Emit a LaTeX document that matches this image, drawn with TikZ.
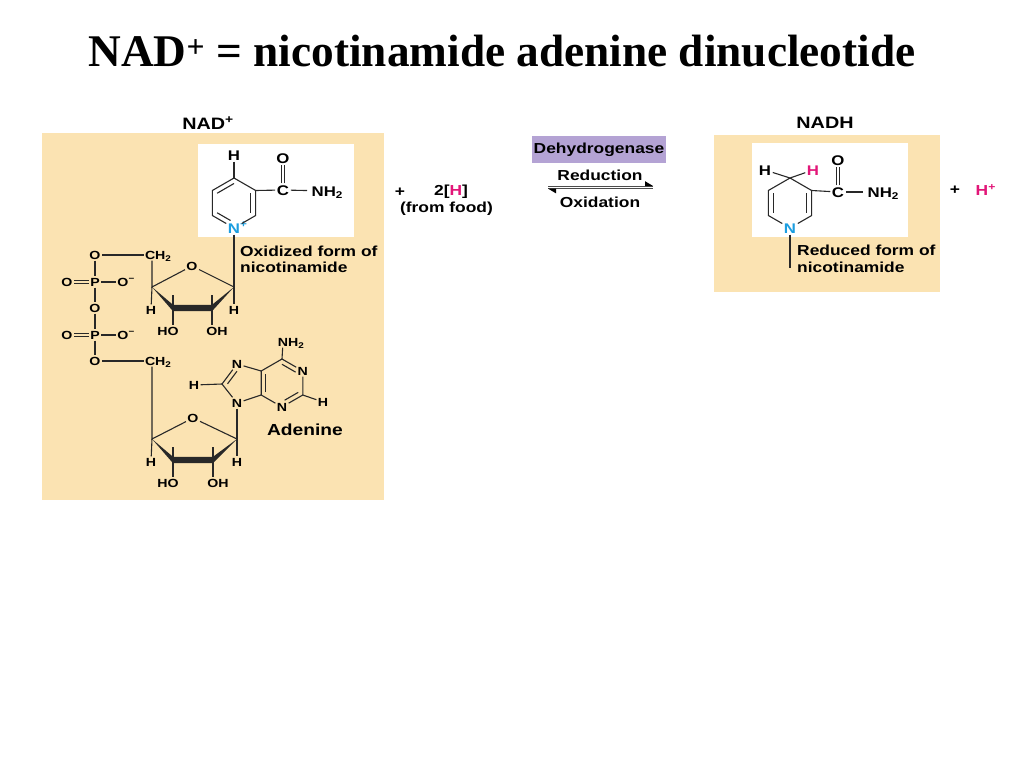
\documentclass[tikz,border=0pt]{standalone}
\usepackage{fontspec}
\setmainfont{Liberation Serif}
\newfontfamily\labfont{Liberation Sans}[FakeStretch=1.2]
\usetikzlibrary{calc}
\definecolor{tanbg}{RGB}{251,227,178}
\definecolor{purp}{RGB}{180,163,212}
\definecolor{mag}{RGB}{226,22,120}
\definecolor{cyn}{RGB}{28,158,224}
\definecolor{bondc}{RGB}{40,40,40}
\newcommand\atomS{\labfont\bfseries\fontsize{11.8}{12}\selectfont}
\newcommand\atomL{\labfont\bfseries\fontsize{14}{15}\selectfont}
\newcommand\labS{\labfont\bfseries\fontsize{14.5}{16}\selectfont}
\newcommand\headS{\labfont\bfseries\fontsize{16.5}{18}\selectfont}
\begin{document}
\begin{tikzpicture}[x=1pt,y=-1pt,
  atm/.style={font=\atomS,inner sep=1.3pt,text height=8.4pt,text depth=0pt},
  atmL/.style={font=\atomL,inner sep=1.5pt,text height=10pt,text depth=0pt},
  bond/.style={line width=1.1pt,draw=bondc},
  lab/.style={font=\labS,inner sep=0pt},
  head/.style={font=\headS,inner sep=0pt},
  panel/.style={fill=tanbg},
  inset/.style={fill=white},
]
\useasboundingbox (0,0) rectangle (1024,768);
\fill[white] (0,0) rectangle (1024,768);

% title
\node[font=\fontsize{45.3}{50}\selectfont\bfseries,anchor=base,inner sep=0pt] (title) at (502,66.5)
  {NAD\textsuperscript{+} = nicotinamide adenine dinucleotide};

% ================= NAD+ panel =================
\fill[panel] (42,133) rectangle (384,500);
\fill[inset] (198,144) rectangle (354,237);
\node[head] (nadlab) at (208,123) {NAD\textsuperscript{+}};

% nicotinamide (oxidized)
\coordinate (nc) at (234,203);
\coordinate (n4) at (234,178);
\coordinate (n3) at (255.65,190.5);
\coordinate (n2) at (255.65,215.5);
\node[atmL,text=cyn] (nN) at (234,228) {N\rlap{\textsuperscript{+}}};
\coordinate (n6) at (212.35,215.5);
\coordinate (n5) at (212.35,190.5);
\node[atmL] (nH) at (234,155) {H};
\node[atmL] (nC) at (283,190) {C};
\node[atmL] (nO) at (283,158) {O};
\node[atmL,anchor=west] (nNH) at (310,191) {NH\textsubscript{2}};
\draw[bond] (n4) -- (n3) -- (n2) -- (nN) -- (n6) -- (n5) -- (n4);
\draw[bond] (nH) -- (n4);
\draw[bond] (n3) -- (nC);
\draw[bond,shorten >=3pt] (nC) -- (nNH);
\draw[bond] ([xshift=-1.8pt]nC.north) -- ([xshift=-1.8pt]nO.south);
\draw[bond] ([xshift=1.8pt]nC.north) -- ([xshift=1.8pt]nO.south);
\draw[bond] ($(n5)!0.22!(nc)$) -- ($(n4)!0.22!(nc)$);
\draw[bond] ($(n3)!0.22!(nc)$) -- ($(n2)!0.22!(nc)$);
\draw[bond,shorten >=4pt] ($(n6)!0.22!(nc)$) -- ($(nN)!0.22!(nc)$);
\node[lab,anchor=base west] (oxa) at (240,256) {Oxidized form of};
\node[lab,anchor=base west] (oxb) at (240,272.5) {nicotinamide};

% phosphates
\node[atm] (pO1) at (95,255) {O};
\node[atm,anchor=west] (ch2a) at (143.5,255) {CH\textsubscript{2}};
\node[atm] (pOa) at (67,282) {O};
\node[atm] (pP1) at (95,282) {P};
\node[atm] (pOm1) at (123,282) {O\rlap{\textsuperscript{−}}};
\node[atm] (pO2) at (95,308) {O};
\node[atm] (pOb) at (67,335) {O};
\node[atm] (pP2) at (95,335) {P};
\node[atm] (pOm2) at (123,335) {O\rlap{\textsuperscript{−}}};
\node[atm] (pO3) at (95,361) {O};
\node[atm,anchor=west] (ch2b) at (143.5,361) {CH\textsubscript{2}};
\draw[bond] (pO1) -- (ch2a);
\draw[bond] (pO1) -- (pP1) -- (pO2) -- (pP2) -- (pO3);
\draw[bond] (pO3) -- (ch2b);
\draw[bond] (pP1) -- (pOm1);
\draw[bond] (pP2) -- (pOm2);
\draw[bond] ([yshift=1.6pt]pOa.east) -- ([yshift=1.6pt]pP1.west);
\draw[bond] ([yshift=-1.6pt]pOa.east) -- ([yshift=-1.6pt]pP1.west);
\draw[bond] ([yshift=1.6pt]pOb.east) -- ([yshift=1.6pt]pP2.west);
\draw[bond] ([yshift=-1.6pt]pOb.east) -- ([yshift=-1.6pt]pP2.west);

% ribose 1
\coordinate (r1c4) at (152,287);
\node[atm] (r1o) at (192,266) {O};
\coordinate (r1c1) at (234,287);
\coordinate (r1c3) at (173,308);
\coordinate (r1c2) at (212,308);
\coordinate (r1t3) at (173,295);
\coordinate (r1t2) at (212,295);
\node[atm] (r1hl) at (151,310) {H};
\node[atm] (r1hr) at (234,310) {H};
\node[atm] (r1ho) at (168,331) {HO};
\node[atm] (r1oh) at (217,331) {OH};
\draw[bond] (r1c4 |- ch2a.south) -- (r1c4) -- (r1o) -- (r1c1);
\draw[bond] (r1c4) -- (r1hl);
\draw[bond] (nN) -- (r1c1) -- (r1hr);
\fill[bondc] (r1c4) -- ($(r1c3)+(0,-3.2)$) -- ($(r1c2)+(0,-3.2)$) -- (r1c1)
  -- ($(r1c2)+(0,3.2)$) -- ($(r1c3)+(0,3.2)$) -- cycle;
\draw[bond] (r1t3) -- (r1c3) -- (r1c3 |- r1ho.north);
\draw[bond] (r1t2) -- (r1c2) -- (r1c2 |- r1oh.north);

% adenine
\coordinate (hc) at (282,383);
\coordinate (a6) at (282,359);
\node[atm] (nA1) at (302.8,371) {N};
\coordinate (a2) at (302.8,395);
\node[atm] (nA3) at (282,407) {N};
\coordinate (a4) at (261.2,395);
\coordinate (a5) at (261.2,371);
\node[atm] (nA7) at (237,364) {N};
\coordinate (a8) at (222,384);
\node[atm] (nA9) at (237,403) {N};
\coordinate (pc) at (244,383.4);
\node[atm] (hA8) at (194,385) {H};
\node[atm] (hA2) at (323,402) {H};
\node[atm] (nh2A) at (283,342) {N\rlap{H\textsubscript{2}}};
\draw[bond] (a5) -- (a6) -- (nA1) -- (a2) -- (nA3) -- (a4) -- (a5) -- (nA7) -- (a8) -- (nA9) -- (a4);
\draw[bond] (a6) -- (nh2A);
\draw[bond] (a8) -- (hA8);
\draw[bond] (a2) -- (hA2);
\draw[bond] ($(a4)!0.22!(hc)$) -- ($(a5)!0.22!(hc)$);
\draw[bond,shorten >=3pt] ($(a6)!0.22!(hc)$) -- ($(nA1)!0.22!(hc)$);
\draw[bond,shorten <=3pt] ($(nA3)!0.22!(hc)$) -- ($(a2)!0.22!(hc)$);
\draw[bond,shorten >=3pt] ($(a8)!0.25!(pc)$) -- ($(nA7)!0.25!(pc)$);
\node[font=\labfont\bfseries\fontsize{16}{18}\selectfont,inner sep=0pt] (adl) at (305,430) {Adenine};

% ribose 2
\coordinate (r2c4) at (152,439);
\node[atm] (r2o) at (193,418) {O};
\coordinate (r2c1) at (237,439);
\coordinate (r2c3) at (173,460);
\coordinate (r2c2) at (213,460);
\coordinate (r2t3) at (173,447);
\coordinate (r2t2) at (213,447);
\node[atm] (r2hl) at (151,462) {H};
\node[atm] (r2hr) at (237,462) {H};
\node[atm] (r2ho) at (168,483) {HO};
\node[atm] (r2oh) at (218,483) {OH};
\draw[bond] (r2c4 |- ch2b.south) -- (r2c4) -- (r2o) -- (r2c1);
\draw[bond] (r2c4) -- (r2hl);
\draw[bond] (nA9) -- (r2c1) -- (r2hr);
\fill[bondc] (r2c4) -- ($(r2c3)+(0,-3.2)$) -- ($(r2c2)+(0,-3.2)$) -- (r2c1)
  -- ($(r2c2)+(0,3.2)$) -- ($(r2c3)+(0,3.2)$) -- cycle;
\draw[bond] (r2t3) -- (r2c3) -- (r2c3 |- r2ho.north);
\draw[bond] (r2t2) -- (r2c2) -- (r2c2 |- r2oh.north);

% ================= middle =================
\node[lab] (plus1) at (400,192) {+};
\node[lab] (twoH) at (451,192) {2[{\color{mag}H}]};
\node[lab] (food) at (446.5,208.5) {(from food)};
\node[lab,fill=purp,minimum width=134pt,minimum height=27pt] (dh) at (599,149.5) {Dehydrogenase};
\node[lab] (red) at (600,175) {Reduction};
\node[lab] (oxi) at (600,202) {Oxidation};
\coordinate (arA) at (548,186);
\coordinate (arB) at (653,186);
\coordinate (arC) at (548,188.6);
\coordinate (arD) at (653,188.6);
\draw[line width=0.9pt,draw=black!70] (arA) -- (arB);
\draw[line width=0.9pt,draw=black!70] (arC) -- (arD);
\fill[black] (arB) -- ++(-8,-4.8) -- ++(0,4.8) -- cycle;
\fill[black] (arC) -- ++(8,4.8) -- ++(0,-4.8) -- cycle;

% ================= NADH panel =================
\fill[panel] (714,135) rectangle (940,292);
\fill[inset] (752,143) rectangle (908,237);
\node[head] (nadhlab) at (825,123) {NADH};
\coordinate (hcen) at (790,203);
\coordinate (h4) at (790,178);
\coordinate (h3) at (811.65,190.5);
\coordinate (h2) at (811.65,215.5);
\node[atmL,text=cyn] (hN) at (790,228) {N};
\coordinate (h6) at (768.35,215.5);
\coordinate (h5) at (768.35,190.5);
\node[atmL] (hHa) at (765,170) {H};
\node[atmL,text=mag] (hHb) at (813,170) {H};
\node[atmL] (hC) at (838,192) {C};
\node[atmL] (hO) at (838,160) {O};
\node[atmL,anchor=west] (hNH) at (866,192) {NH\textsubscript{2}};
\draw[bond] (h4) -- (h3) -- (h2) -- (hN) -- (h6) -- (h5) -- (h4);
\draw[bond] (hHa) -- (h4) -- (hHb);
\draw[bond] (h3) -- (hC);
\draw[bond,shorten >=3pt] (hC) -- (hNH);
\draw[bond] ([xshift=-1.8pt]hC.north) -- ([xshift=-1.8pt]hO.south);
\draw[bond] ([xshift=1.8pt]hC.north) -- ([xshift=1.8pt]hO.south);
\draw[bond] ($(h5)!0.22!(hcen)$) -- ($(h6)!0.22!(hcen)$);
\draw[bond] ($(h3)!0.22!(hcen)$) -- ($(h2)!0.22!(hcen)$);
\coordinate (hend) at (790,268);
\draw[bond] (hN) -- (hend);
\node[lab,anchor=base west] (rda) at (797,255.5) {Reduced form of};
\node[lab,anchor=base west] (rdb) at (797,272) {nicotinamide};

\node[lab] (plus2) at (955,190) {+};
\node[lab,text=mag] (hplus) at (982,190) {H\rlap{\textsuperscript{+}}};
\end{tikzpicture}
\end{document}
